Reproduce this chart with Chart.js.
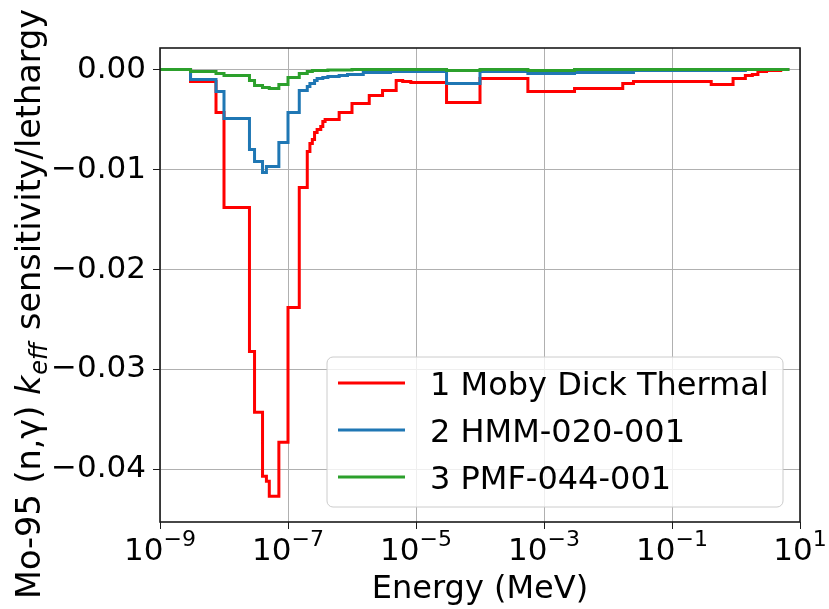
<!DOCTYPE html>
<html>
<head>
<meta charset="utf-8">
<script src="https://cdn.jsdelivr.net/npm/chart.js@4"></script>
<style>
  html, body { margin: 0; padding: 0; background: #ffffff; }
  canvas { display: block; }
</style>
</head>
<body>
<canvas id="c" width="829" height="609" style="width:829px;height:609px"></canvas>
<script>
// ---------------- DATA ----------------
// group boundaries (MeV)
const energyEdges = [
  1e-9, 3e-9, 7.5e-9, 1e-8, 2.5e-8, 3e-8, 4e-8, 4.6e-8, 5.1e-8, 7.2e-8,
  1e-7, 1.5e-7, 2e-7, 2.2e-7, 2.4e-7, 2.6e-7, 2.85e-7, 3.25e-7, 3.5e-7, 3.8e-7,
  4.2e-7, 6.3e-7, 8.5e-7, 1e-6, 1.5e-6, 1.86e-6, 3e-6, 4e-6, 4.9e-6, 6.2e-6,
  8.3e-6, 3e-5, 1e-4, 5.6e-4, 3e-3, 1.7e-2, 2.5e-2, 0.41, 0.9, 1.4,
  1.8, 2.2, 3.0, 5.0, 6.8
];
// sensitivity per lethargy for each group (one value per group)
const mobyDickValues = [
  0, -0.0012, -0.0043, -0.0138, -0.0282, -0.0343, -0.0407, -0.0412, -0.0427, -0.0373,
  -0.0238, -0.0118, -0.0082, -0.0074, -0.0070, -0.0063, -0.0060, -0.0057, -0.0052, -0.0050,
  -0.0050, -0.0043, -0.0043, -0.0034, -0.0034, -0.0026, -0.0021, -0.0021, -0.0011, -0.0012,
  -0.0013, -0.0033, -0.0009, -0.0022, -0.0019, -0.0014, -0.0012, -0.0015, -0.0009, -0.0006,
  -0.0005, -0.0002, -0.0001, 0
];
const hmmValues = [
  0, -0.0010, -0.0022, -0.0049, -0.0080, -0.0092, -0.0103, -0.0097, -0.0097, -0.0073,
  -0.0043, -0.0021, -0.0017, -0.0014, -0.0014, -0.0011, -0.0009, -0.0009, -0.0008, -0.0008,
  -0.0007, -0.0006, -0.0005, -0.0005, -0.0003, -0.0003, -0.0003, -0.0002, -0.0002, -0.0002,
  -0.0002, -0.0014, -0.0002, -0.0004, -0.0003, -0.0003, -0.0001, -0.0001, -0.0001, 0,
  0, 0, 0, 0
];
const pmfValues = [
  0, -0.0002, -0.0004, -0.0006, -0.0011, -0.0016, -0.0018, -0.0018, -0.0019, -0.0015,
  -0.0008, -0.0004, -0.0002, -0.0002, -0.0001, -0.0001, -0.0001, -0.0001, -0.0001, -0.0001,
  -0.00005, -0.00005, -0.00005, 0, 0, 0, 0, 0, 0, 0,
  0, -0.0001, 0, -0.0001, 0, 0, 0, 0, 0, 0,
  0, 0, 0, 0
];
const seriesNames = ['1 Moby Dick Thermal', '2 HMM-020-001', '3 PMF-044-001'];
const seriesColors = ['#ff0000', '#1f77b4', '#2ca02c'];
const xTickValues = [1e-9, 1e-7, 1e-5, 1e-3, 1e-1, 1e1];
const xTickBases = ['10', '10', '10', '10', '10', '10'];
const xTickExponents = ['\u22129', '\u22127', '\u22125', '\u22123', '\u22121', '1'];
const yTickValues = [-0.04, -0.03, -0.02, -0.01, 0.0];
const yTickLabels = ['\u22120.04', '\u22120.03', '\u22120.02', '\u22120.01', '0.00'];
const xTitle = 'Energy (MeV)';
const yTitleParts = ['Mo-95 (n,\u03B3) ', 'k', 'eff', ' sensitivity/lethargy'];

// ---------------- CHART ----------------
const FONT = "'DejaVu Sans', 'Liberation Sans', sans-serif";
Chart.defaults.font.family = FONT;
Chart.defaults.color = '#000000';

function stepPoints(edges, vals) {
  return edges.map((e, i) => ({ x: e, y: vals[Math.min(i, vals.length - 1)] }));
}

const allValues = [mobyDickValues, hmmValues, pmfValues];
const datasets = allValues.map((vals, i) => ({
  label: seriesNames[i],
  data: stepPoints(energyEdges, vals),
  borderColor: seriesColors[i],
  backgroundColor: seriesColors[i],
  borderWidth: 3,
  stepped: 'before',
  pointRadius: 0,
  fill: false,
  order: 3 - i
}));

const bgPlugin = {
  id: 'bg',
  beforeDraw(chart) {
    const ctx = chart.ctx;
    ctx.save();
    ctx.fillStyle = '#ffffff';
    ctx.fillRect(0, 0, chart.width, chart.height);
    ctx.restore();
  }
};

const framePlugin = {
  id: 'frame',
  afterDraw(chart) {
    const ctx = chart.ctx;
    const a = chart.chartArea;
    ctx.save();
    // spines
    ctx.strokeStyle = '#1a1a1a';
    ctx.lineWidth = 1.6;
    ctx.strokeRect(a.left, a.top, a.right - a.left, a.bottom - a.top);
    ctx.restore();

    // x tick labels with superscript exponents (positions from the library's scale)
    const xs = chart.scales.x;
    ctx.save();
    ctx.fillStyle = '#000000';
    ctx.textBaseline = 'alphabetic';
    ctx.textAlign = 'left';
    xTickValues.forEach((v, i) => {
      const px = xs.getPixelForValue(v);
      ctx.font = '31px ' + FONT;
      const wb = ctx.measureText(xTickBases[i]).width;
      ctx.font = '22px ' + FONT;
      const we = ctx.measureText(xTickExponents[i]).width;
      const x0 = px - (wb + we) / 2;
      ctx.font = '31px ' + FONT;
      ctx.fillText(xTickBases[i], x0, a.bottom + 38);
      ctx.font = '22px ' + FONT;
      ctx.fillText(xTickExponents[i], x0 + wb, a.bottom + 24);
    });
    ctx.restore();

    // y title with italic k and subscript eff
    ctx.save();
    ctx.translate(40, 599);
    ctx.rotate(-Math.PI / 2);
    ctx.fillStyle = '#000000';
    ctx.textBaseline = 'alphabetic';
    ctx.textAlign = 'left';
    let x = 0;
    ctx.font = '33.5px ' + FONT;
    ctx.fillText(yTitleParts[0], x, 0);
    x += ctx.measureText(yTitleParts[0]).width;
    ctx.font = 'italic 33.5px ' + FONT;
    ctx.fillText(yTitleParts[1], x, 0);
    x += ctx.measureText(yTitleParts[1]).width + 1;
    ctx.font = 'italic 24px ' + FONT;
    ctx.fillText(yTitleParts[2], x, 7);
    x += ctx.measureText(yTitleParts[2]).width + 2;
    ctx.font = '33.5px ' + FONT;
    ctx.fillText(yTitleParts[3], x, 0);
    ctx.restore();

    // x title
    ctx.save();
    ctx.fillStyle = '#000000';
    ctx.font = '32px ' + FONT;
    ctx.textAlign = 'center';
    ctx.textBaseline = 'alphabetic';
    ctx.fillText(xTitle, (a.left + a.right) / 2, 598);
    ctx.restore();

    // legend
    ctx.save();
    const bx = 327, by = 357, bw = 456, bh = 150, r = 6;
    ctx.beginPath();
    ctx.moveTo(bx + r, by);
    ctx.arcTo(bx + bw, by, bx + bw, by + bh, r);
    ctx.arcTo(bx + bw, by + bh, bx, by + bh, r);
    ctx.arcTo(bx, by + bh, bx, by, r);
    ctx.arcTo(bx, by, bx + bw, by, r);
    ctx.closePath();
    ctx.fillStyle = 'rgba(255,255,255,0.8)';
    ctx.fill();
    ctx.strokeStyle = '#cccccc';
    ctx.lineWidth = 1;
    ctx.stroke();
    const rows = [383, 430, 477];
    seriesNames.forEach((name, i) => {
      ctx.beginPath();
      ctx.moveTo(338, rows[i]);
      ctx.lineTo(405, rows[i]);
      ctx.strokeStyle = seriesColors[i];
      ctx.lineWidth = 3;
      ctx.stroke();
      ctx.fillStyle = '#000000';
      ctx.font = '32px ' + FONT;
      ctx.textBaseline = 'alphabetic';
      ctx.textAlign = 'left';
      ctx.fillText(name, 430, rows[i] + 12);
    });
    ctx.restore();
  }
};

new Chart(document.getElementById('c'), {
  type: 'line',
  data: { datasets },
  plugins: [bgPlugin, framePlugin],
  options: {
    responsive: false,
    animation: false,
    devicePixelRatio: 1,
    layout: { padding: { top: 48, right: 29, left: 0, bottom: 0 } },
    plugins: { legend: { display: false }, tooltip: { enabled: false }, title: { display: false } },
    elements: { line: { borderJoinStyle: 'miter', tension: 0 } },
    scales: {
      x: {
        type: 'logarithmic',
        min: 1e-9,
        max: 10,
        afterBuildTicks(scale) { scale.ticks = xTickValues.map(v => ({ value: v, major: true })); },
        afterFit(scale) { scale.height = 87; },
        ticks: {
          autoSkip: false,
          maxRotation: 0,
          padding: 3,
          font: { size: 31 },
          color: 'rgba(0,0,0,0)',
          callback() { return ''; }
        },
        grid: { color: '#b0b0b0', lineWidth: 1, tickColor: '#1a1a1a', tickLength: 7, drawTicks: true },
        border: { display: false }
      },
      y: {
        type: 'linear',
        min: -0.04527,
        max: 0.00216,
        afterBuildTicks(scale) { scale.ticks = yTickValues.map(v => ({ value: v })); },
        afterFit(scale) { scale.width = 160; },
        ticks: {
          autoSkip: false,
          padding: 7,
          font: { size: 31 },
          color: '#000000',
          callback(value) {
            const idx = yTickValues.findIndex(v => Math.abs(v - value) < 1e-9);
            return idx >= 0 ? yTickLabels[idx] : '';
          }
        },
        grid: { color: '#b0b0b0', lineWidth: 1, tickColor: '#1a1a1a', tickLength: 7, drawTicks: true },
        border: { display: false }
      }
    }
  }
});
</script>
</body>
</html>
